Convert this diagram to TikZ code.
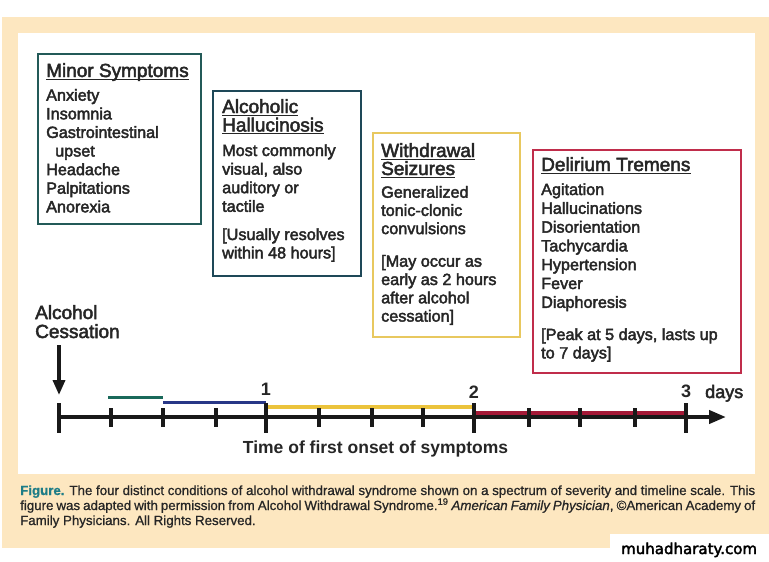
\documentclass[tikz,border=0pt]{standalone}
\usepackage{fontspec}
\setmainfont{Liberation Sans}
\newfontfamily\medfont[FakeBold=2.6]{Liberation Sans}
\newfontfamily\capfont[FakeBold=0.8]{Liberation Sans}
\newfontfamily\wmfont[FakeBold=2.6]{DejaVu Sans}
\usetikzlibrary{arrows.meta}
\definecolor{beige}{RGB}{253,231,192}
\definecolor{tealA}{RGB}{35,90,88}
\definecolor{tealB}{RGB}{30,72,88}
\definecolor{goldC}{RGB}{232,200,95}
\definecolor{crimD}{RGB}{192,45,75}
\definecolor{barteal}{RGB}{25,105,90}
\definecolor{barnavy}{RGB}{40,55,135}
\definecolor{baryel}{RGB}{235,195,60}
\definecolor{barred}{RGB}{165,25,55}
\definecolor{txtdark}{RGB}{38,38,38}
\definecolor{axisblack}{RGB}{25,25,25}
\definecolor{figteal}{RGB}{30,125,135}
\tikzset{
  boxframe/.style={draw=#1, line width=2pt, fill=white, anchor=north west, inner sep=0pt},
  ttl/.style={anchor=base west, inner sep=0pt, font=\medfont\fontsize{19}{22}\selectfont, text=txtdark},
  bodyline/.style={anchor=base west, inner sep=0pt, font=\medfont\fontsize{16.2}{19}\selectfont, text=txtdark},
  uln/.style={line width=1.3pt, draw=txtdark},
  majortick/.style={line width=4pt, draw=axisblack},
  minortick/.style={line width=3.5pt, draw=axisblack},
  axisline/.style={line width=4pt, draw=axisblack, -{Triangle[length=17pt,width=13pt]}},
  cessarrow/.style={line width=3.5pt, draw=axisblack, -{Triangle[length=15pt,width=12pt]}},
  numlbl/.style={anchor=base, inner sep=0pt, font=\bfseries\fontsize{18}{20}\selectfont, text=txtdark},
}
\begin{document}
\begin{tikzpicture}[x=1pt,y=-1pt]
\useasboundingbox (0,0) rectangle (769,562);
% background panels
\fill[white] (0,0) rectangle (769,562);
\fill[beige] (2,17) rectangle (769,548);
\fill[white] (18,33) rectangle (755,474);
\fill[white] (610,534) rectangle (769,562);

% ---- Box 1: Minor Symptoms
\node[boxframe=tealA, minimum width=163pt, minimum height=170pt] (b1) at (37,53) {};
\node[ttl] (h1) at (46,77) {Minor Symptoms};
\draw[uln] ([yshift=-2.3pt]h1.base west) -- ([yshift=-2.3pt]h1.base east);
\foreach[count=\i] \yy/\t in {100.7/Anxiety, 119.3/Insomnia, 137.9/Gastrointestinal, 175.1/Headache, 193.7/Palpitations, 212.3/Anorexia}
  \node[bodyline] (b1l\i) at (46,\yy) {\t};
\node[bodyline] (b1up) at (55,156.5) {upset};

% ---- Box 2: Alcoholic Hallucinosis
\node[boxframe=tealB, minimum width=148pt, minimum height=185pt] (b2) at (212,90) {};
\node[ttl] (h2a) at (222,113) {Alcoholic\hspace{0.3em}};
\node[ttl] (h2b) at (222,131.5) {Hallucinosis};
\draw[uln] ([yshift=-2.3pt]h2a.base west) -- ([yshift=-2.3pt]h2a.base east);
\draw[uln] ([yshift=-2.3pt]h2b.base west) -- ([yshift=-2.3pt]h2b.base east);
\foreach[count=\i] \yy/\t in {156/{Most commonly}, 174.6/{visual, also}, 193.2/{auditory or}, 211.8/{tactile}, 240/{[Usually resolves}, 258.4/{within 48 hours]}}
  \node[bodyline] (b2l\i) at (222,\yy) {\t};

% ---- Box 3: Withdrawal Seizures
\node[boxframe=goldC, minimum width=147pt, minimum height=204pt] (b3) at (372,132) {};
\node[ttl] (h3a) at (381,157) {Withdrawal\hspace{0.3em}};
\node[ttl] (h3b) at (381,175) {Seizures};
\draw[uln] ([yshift=-2.3pt]h3a.base west) -- ([yshift=-2.3pt]h3a.base east);
\draw[uln] ([yshift=-2.3pt]h3b.base west) -- ([yshift=-2.3pt]h3b.base east);
\foreach[count=\i] \yy/\t in {197.7/{Generalized}, 215.9/{tonic-clonic}, 234.1/{convulsions}, 266.7/{[May occur as}, 285/{early as 2 hours}, 303.3/{after alcohol}, 321.6/{cessation]}}
  \node[bodyline] (b3l\i) at (381,\yy) {\t};

% ---- Box 4: Delirium Tremens
\node[boxframe=crimD, minimum width=208pt, minimum height=223pt] (b4) at (532,149) {};
\node[ttl] (h4) at (541,171) {Delirium Tremens};
\draw[uln] ([yshift=-2.3pt]h4.base west) -- ([yshift=-2.3pt]h4.base east);
\foreach[count=\i] \yy/\t in {195/{Agitation}, 213.8/{Hallucinations}, 232.6/{Disorientation}, 251.4/{Tachycardia}, 270.2/{Hypertension}, 289/{Fever}, 307.8/{Diaphoresis}, 340/{[Peak at 5 days, lasts up}, 358.4/{to 7 days]}}
  \node[bodyline] (b4l\i) at (541,\yy) {\t};

% ---- Alcohol cessation
\node[ttl] (ac1) at (35,319) {Alcohol};
\node[ttl] (ac2) at (35,338) {Cessation};
\coordinate (arrtop) at (59,345);
\coordinate (arrtip) at (59,395);
\draw[cessarrow] (arrtop) -- (arrtip);

% ---- timeline
\coordinate (t0) at (59,417);
\coordinate (t1) at (266,417);
\coordinate (t2) at (474,417);
\coordinate (t3) at (686,417);
\coordinate (tend) at (726,417);
% symptom bars
\coordinate (tealS) at (108,397); \coordinate (tealE) at (163,397);
\coordinate (navyS) at (163,402); \coordinate (navyE) at (266,402);
\coordinate (yelS) at (266,407);  \coordinate (yelE) at (474,407);
\coordinate (redS) at (474,413);  \coordinate (redE) at (686,413);
\draw[barteal, line width=3pt] (tealS) -- (tealE);
\draw[barnavy, line width=3pt] (navyS) -- (navyE);
\draw[baryel, line width=4pt] (yelS) -- (yelE);
\draw[barred, line width=5pt] (redS) -- (redE);
\draw[axisline] (t0) -- (tend);
\foreach \xx in {59,266,474,686}
  \draw[majortick] (\xx,403) -- (\xx,433);
\foreach \xx in {111,163,216,319,372,423,529,580,635}
  \draw[minortick] (\xx,408) -- (\xx,427);
\node[numlbl] (n1) at (266,395) {1};
\node[numlbl] (n2) at (474,398) {2};
\node[numlbl] (n3) at (686,397) {3};
\node[anchor=base west, inner sep=0pt, font=\medfont\fontsize{18}{20}\selectfont, text=txtdark] (days) at (705,398) {days};
\node[anchor=base, inner sep=0pt, font=\bfseries\fontsize{17.5}{20}\selectfont, text=txtdark] (tlabel) at (375.5,453) {Time of first onset of symptoms};

% ---- caption (anchor on last line's baseline)
\node[anchor=base west, inner sep=0pt, align=left, text=txtdark, font=\capfont\fontsize{13.3}{15}\selectfont] (cap) at (20,525)
 {\makebox[735pt][s]{{\bfseries\color{figteal}Figure.} The four distinct conditions of alcohol withdrawal syndrome shown on a spectrum of severity and timeline scale. This}\\
  \makebox[735pt][s]{figure was adapted with permission from Alcohol Withdrawal Syndrome.\textsuperscript{19} \textit{American Family Physician}, ©American Academy of}\\
  Family Physicians. All Rights Reserved.};

% ---- watermark
\node[anchor=base west, inner sep=0pt, font=\wmfont\fontsize{15}{17}\selectfont, text=black] (wm) at (621,554) {muhadharaty.com};
\end{tikzpicture}
\end{document}
